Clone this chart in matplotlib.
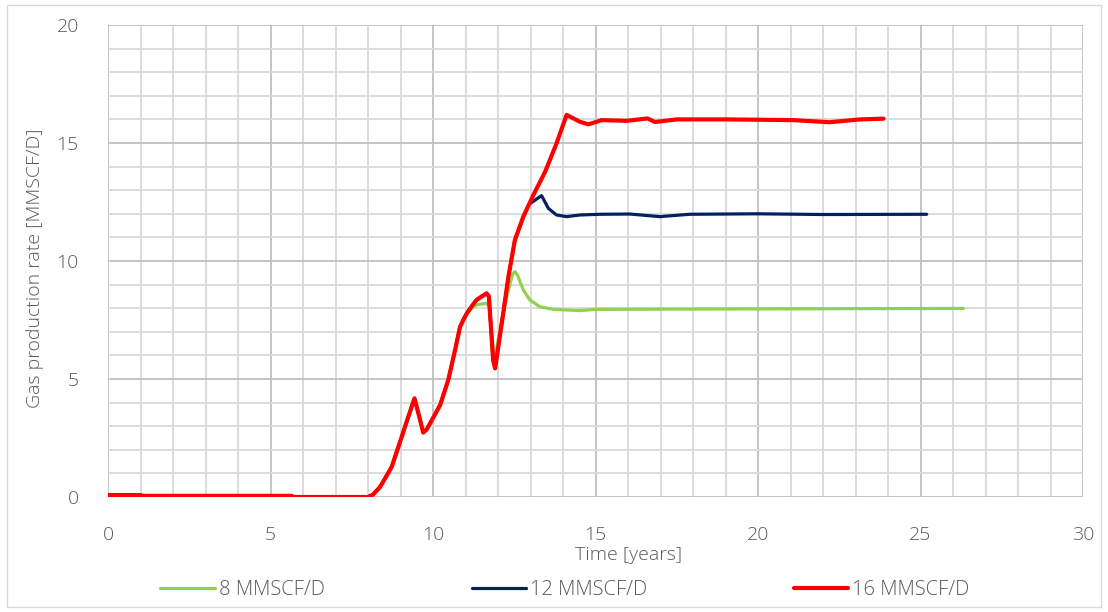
import matplotlib
matplotlib.use('Agg')
import matplotlib.pyplot as plt
import numpy as np
from matplotlib.patches import Rectangle

plt.rcParams['font.family'] = ['Open Sans', 'DejaVu Sans']
plt.rcParams['font.weight'] = 'light'

# shared part of the curves (all three cases identical here)
ramp_t = [0, 1.0, 1.05, 5.65, 5.7, 8.0, 8.15, 8.37, 8.73, 9.04, 9.24, 9.43, 9.55,
          9.70, 9.8, 9.91, 10.22, 10.47, 10.68, 10.83, 10.95, 11.04]
ramp_q = [0.08, 0.08, 0.05, 0.05, 0.0, 0.0, 0.1, 0.42, 1.28, 2.56, 3.4, 4.18, 3.55,
          2.73, 2.85, 3.12, 3.9, 4.96, 6.23, 7.2, 7.55, 7.78]

# 8 MMSCF/D
g_t = [11.2, 11.34, 11.5, 11.65, 11.72, 11.85, 11.91, 12.06, 12.27, 12.45, 12.52,
       12.6, 12.78, 12.98, 13.29, 13.7, 14.52, 15.0, 17.0, 20.0, 23.0, 26.32]
g_q = [8.0, 8.14, 8.18, 8.2, 8.1, 6.3, 5.9, 7.08, 8.49, 9.45, 9.55,
       9.4, 8.77, 8.35, 8.06, 7.95, 7.9, 7.95, 7.96, 7.97, 7.98, 7.99]

# 12 MMSCF/D
b_t = [11.2, 11.34, 11.5, 11.65, 11.72, 11.85, 11.91, 12.01, 12.16, 12.32, 12.52,
       12.78, 12.95, 13.34, 13.55, 13.8, 14.11, 14.52, 15.14, 16.06, 16.98, 17.9,
       20.0, 22.0, 25.19]
b_q = [8.1, 8.35, 8.5, 8.63, 8.5, 5.8, 5.45, 6.37, 7.78, 9.33, 10.89,
       11.88, 12.4, 12.77, 12.23, 11.95, 11.88, 11.95, 11.98, 11.99, 11.88, 11.98,
       12.0, 11.97, 11.98]

# 16 MMSCF/D
r_t = [11.2, 11.34, 11.5, 11.65, 11.72, 11.85, 11.91, 12.01, 12.16, 12.32, 12.52,
       12.78, 13.09, 13.45, 13.8, 14.11, 14.52, 14.78, 15.19, 15.96, 16.6, 16.83,
       17.5, 19.03, 21.08, 22.2, 23.14, 23.86]
r_q = [8.1, 8.35, 8.5, 8.63, 8.5, 5.8, 5.45, 6.37, 7.78, 9.33, 10.89,
       11.88, 12.8, 13.78, 14.98, 16.19, 15.9, 15.79, 15.97, 15.94, 16.04, 15.89,
       16.0, 16.0, 15.97, 15.88, 16.0, 16.03]

labels = ['8 MMSCF/D', '12 MMSCF/D', '16 MMSCF/D']
colors = ['#92d050', '#002060', '#ff0000']
widths = [2.3, 2.3, 3.0]

fig = plt.figure(figsize=(11.08, 6.12), dpi=100)
ax = fig.add_axes([108 / 1108, 1 - 497 / 612, 975 / 1108, 472 / 612])

for (tt, qq), lab, c, lw in zip([(g_t, g_q), (b_t, b_q), (r_t, r_q)], labels, colors, widths):
    x = np.concatenate([ramp_t, tt])
    y = np.concatenate([ramp_q, qq])
    ax.plot(x, y, color=c, lw=lw, label=lab, solid_capstyle='round', solid_joinstyle='round')

ax.set_xlim(0, 30)
ax.set_ylim(0, 20)
ax.set_xticks(np.arange(0, 31, 5))
ax.set_yticks(np.arange(0, 21, 5))
ax.set_xticks(np.arange(0, 31, 1), minor=True)
ax.set_yticks(np.arange(0, 21, 1), minor=True)
ax.grid(which='major', color='#bfbfbf', lw=1.3)
ax.grid(which='minor', color='#d9d9d9', lw=1.3)
ax.set_axisbelow(True)
for s in ax.spines.values():
    s.set_visible(False)
ax.tick_params(which='both', length=0, labelsize=14, labelcolor='#595959')
ax.tick_params(axis='x', pad=21)
ax.tick_params(axis='y', pad=21)

fig.text(35 / 1108, 1 - 268 / 612, 'Gas production rate [MMSCF/D]', rotation=90,
         ha='center', va='center', fontsize=14, color='#595959')
fig.text(629 / 1108, 1 - 555 / 612, 'Time [years]', ha='center', va='center',
         fontsize=14, color='#595959')

fig.legend(loc='center', bbox_to_anchor=(565 / 1108, 1 - 590 / 612), ncol=3, frameon=False,
           fontsize=14.5, labelcolor='#595959', handlelength=2.7, handletextpad=0.2,
           columnspacing=7.3)

fig.add_artist(Rectangle((0.006, 0.008), 0.988, 0.984, transform=fig.transFigure,
                         fill=False, edgecolor='#d9d9d9', lw=1))

fig.savefig('out.png', dpi=100)
